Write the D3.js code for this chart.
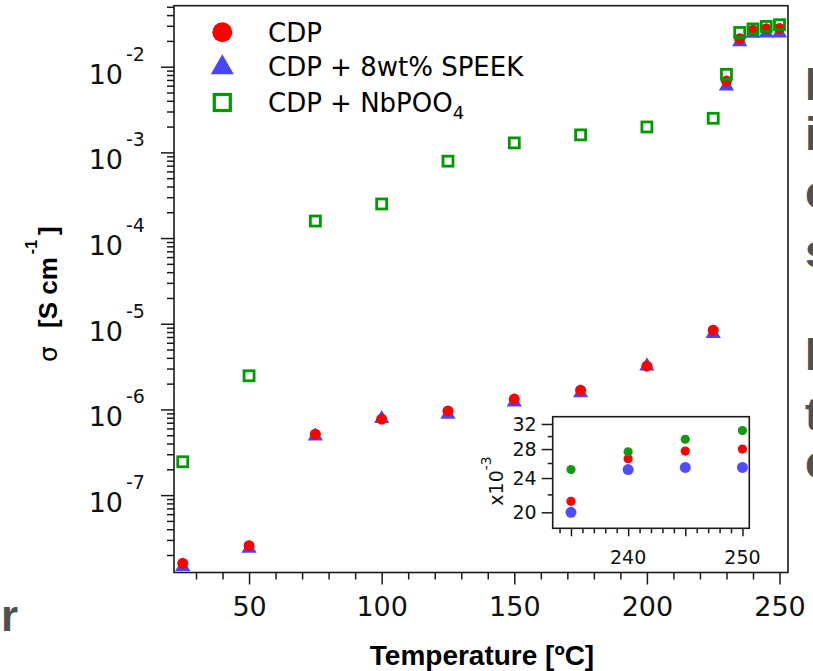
<!DOCTYPE html>
<html>
<head>
<meta charset="utf-8">
<script src="https://cdnjs.cloudflare.com/ajax/libs/d3/7.8.5/d3.min.js"></script>
<style>
  body { margin: 0; background: #fff; }
  svg { display: block; font-family: "DejaVu Sans", sans-serif; }
</style>
</head>
<body>
<svg id="chart" width="813" height="671"></svg>
<script>
// data
var temps = [25, 50, 75, 100, 125, 150, 175, 200, 225, 230, 235, 240, 245, 250];
var cdp = [1.6e-8, 2.57e-8, 5.15e-7, 7.7e-7, 9.6e-7, 1.32e-6, 1.68e-6, 3.2e-6, 8.4e-6, 6.8e-3, 21.2e-3, 26.6e-3, 27.7e-3, 28.0e-3];
var speek = [1.5e-8, 2.45e-8, 5.0e-7, 8.0e-7, 9.0e-7, 1.25e-6, 1.6e-6, 3.3e-6, 7.9e-6, 6.1e-3, 20.0e-3, 25.1e-3, 25.4e-3, 25.4e-3];
var nbpoo4 = [2.45e-7, 2.47e-6, 1.58e-4, 2.5e-4, 7.9e-4, 1.29e-3, 1.6e-3, 1.98e-3, 2.5e-3, 8.15e-3, 25.1e-3, 27.6e-3, 29.5e-3, 30.9e-3];

var xMajor = [50, 100, 150, 200, 250];
var yDecades = [-7, -6, -5, -4, -3, -2];
var insetXLabels = [240, 250];
var insetYLabels = [20, 24, 28, 32];
var seriesNames = ["CDP", "CDP + 8wt% SPEEK", "CDP + NbPOO"];
var sideLetters = ["I", "i", "c", "s", "I", "t", "c"];

var red = "#ff0000", blue = "#4646ff", green = "#009900";
var helv = "Liberation Sans, Arial, sans-serif";

var svg = d3.select("#chart");

// main plot box
var box = {left: 174, right: 788, top: 5.7, bottom: 572.5};
var x = d3.scaleLinear().domain([21.7, 253.2]).range([box.left, box.right]);
var y = d3.scaleLog().domain([1.25e-8, 5.15e-2]).range([box.bottom, box.top]);

var main = svg.append("g");

// x ticks (outside, below)
var xMinor = d3.range(30, 251, 10).filter(function(t){ return xMajor.indexOf(t) < 0; });
main.append("g")
  .attr("transform", "translate(0," + box.bottom + ")")
  .call(d3.axisBottom(x).tickValues(xMinor).tickSize(7).tickFormat(""))
  .call(cleanAxis);
main.append("g")
  .attr("transform", "translate(0," + box.bottom + ")")
  .call(d3.axisBottom(x).tickValues(xMajor).tickSize(12).tickPadding(12).tickFormat(d3.format("d")))
  .call(cleanAxis)
  .selectAll("text")
  .attr("font-size", 27)
  .attr("fill", "#111");

// y ticks (outside, left)
var yMinor = [];
d3.range(-8, -1).forEach(function(p){
  for (var m = 2; m <= 9; m++) {
    var v = m * Math.pow(10, p);
    if (v >= y.domain()[0] && v <= y.domain()[1]) yMinor.push(v);
  }
});
main.append("g")
  .attr("transform", "translate(" + box.left + ",0)")
  .call(d3.axisLeft(y).tickValues(yMinor).tickSize(7).tickFormat(""))
  .call(cleanAxis);
main.append("g")
  .attr("transform", "translate(" + box.left + ",0)")
  .call(d3.axisLeft(y).tickValues(yDecades.map(function(p){ return Math.pow(10, p); })).tickSize(13).tickFormat(""))
  .call(cleanAxis);

// decade labels with superscripts
main.append("g").selectAll("text")
  .data(yDecades)
  .join("text")
  .attr("x", 123)
  .attr("y", function(p){ return y(Math.pow(10, p)) + 17; })
  .attr("text-anchor", "end")
  .attr("font-size", 27)
  .attr("fill", "#111")
  .text("10");
main.append("g").selectAll("text")
  .data(yDecades)
  .join("text")
  .attr("x", 126)
  .attr("y", function(p){ return y(Math.pow(10, p)) - 6; })
  .attr("font-size", 19)
  .attr("fill", "#111")
  .text(function(p){ return "-" + (-p); });

// frame
main.append("rect")
  .attr("x", box.left).attr("y", box.top)
  .attr("width", box.right - box.left).attr("height", box.bottom - box.top)
  .attr("fill", "none").attr("stroke", "#1a1a1a").attr("stroke-width", 1.6);

// markers: triangles, then circles, then open squares
var tri = d3.symbol().type(d3.symbolTriangle).size(100);
main.append("g").selectAll("path")
  .data(temps)
  .join("path")
  .attr("d", tri)
  .attr("transform", function(t, i){ return "translate(" + x(t) + "," + (y(speek[i]) + 1) + ")"; })
  .attr("fill", blue);
main.append("g").selectAll("circle")
  .data(temps)
  .join("circle")
  .attr("cx", function(t){ return x(t); })
  .attr("cy", function(t, i){ return y(cdp[i]); })
  .attr("r", 5.5)
  .attr("fill", red);
main.append("g").selectAll("rect")
  .data(temps)
  .join("rect")
  .attr("x", function(t){ return x(t) - 5; })
  .attr("y", function(t, i){ return y(nbpoo4[i]) - 5; })
  .attr("width", 10).attr("height", 10)
  .attr("fill", "none")
  .attr("stroke", green)
  .attr("stroke-width", 2.8);

// axis titles
svg.append("text")
  .attr("x", 482).attr("y", 665)
  .attr("text-anchor", "middle")
  .attr("font-family", helv)
  .attr("font-size", 28)
  .attr("font-weight", "bold")
  .attr("fill", "#000")
  .text("Temperature [ºC]");

var yt = svg.append("text")
  .attr("transform", "rotate(-90)")
  .attr("y", 57)
  .attr("fill", "#000");
yt.append("tspan").attr("x", -362).attr("font-size", 25).text("σ");
yt.append("tspan").attr("x", -328).attr("font-size", 26)
  .attr("font-family", helv).attr("font-weight", "bold").text("[S cm");
yt.append("tspan").attr("dy", -20).attr("dx", 3).attr("font-size", 16)
  .attr("font-family", helv).attr("font-weight", "bold").text("-1");
yt.append("tspan").attr("dy", 20).attr("dx", 5).attr("font-size", 26)
  .attr("font-family", helv).attr("font-weight", "bold").text("]");

// legend
var leg = svg.append("g");
var legY = [32.3, 67.6, 102.5];
leg.append("circle").attr("cx", 222.3).attr("cy", legY[0]).attr("r", 10).attr("fill", red);
leg.append("path")
  .attr("d", d3.symbol().type(d3.symbolTriangle).size(230))
  .attr("transform", "translate(222.3," + legY[1] + ")")
  .attr("fill", blue);
leg.append("rect").attr("x", 214.3).attr("y", legY[2] - 8).attr("width", 16).attr("height", 16)
  .attr("fill", "none").attr("stroke", green).attr("stroke-width", 3.2);
leg.selectAll("text.lab")
  .data(seriesNames)
  .join("text")
  .attr("class", "lab")
  .attr("x", 268)
  .attr("y", function(d, i){ return [42.3, 75.7, 111.7][i]; })
  .attr("font-size", 26)
  .attr("fill", "#000")
  .text(function(d){ return d; })
  .filter(function(d, i){ return i == 2; })
  .append("tspan")
  .attr("dy", 7).attr("font-size", 18).text("4");

// inset with the high temperature points, log axis in units of 1e-3
var ib = {left: 552.7, right: 749.3, top: 416.7, bottom: 528.3};
var ix = d3.scaleLinear().domain([233.4, 250.6]).range([ib.left, ib.right]);
var iy = d3.scaleLog().domain([18.37, 33.26]).range([ib.bottom, ib.top]);
var inset = svg.append("g");

inset.append("rect")
  .attr("x", ib.left).attr("y", ib.top)
  .attr("width", ib.right - ib.left).attr("height", ib.bottom - ib.top)
  .attr("fill", "#fff").attr("stroke", "#1a1a1a").attr("stroke-width", 1.6);

inset.append("g")
  .attr("transform", "translate(0," + ib.bottom + ")")
  .call(d3.axisBottom(ix).tickValues(d3.range(234, 251).filter(function(t){ return t % 5; })).tickSize(5).tickFormat(""))
  .call(cleanAxis);
inset.append("g")
  .attr("transform", "translate(0," + ib.bottom + ")")
  .call(d3.axisBottom(ix).tickValues([235, 240, 245, 250]).tickSize(8).tickFormat(""))
  .call(cleanAxis);
inset.append("g").selectAll("text")
  .data(insetXLabels)
  .join("text")
  .attr("x", function(t){ return ix(t); })
  .attr("y", 564)
  .attr("text-anchor", "middle")
  .attr("font-size", 19)
  .attr("fill", "#111")
  .text(function(t){ return t; });

inset.append("g")
  .attr("transform", "translate(" + ib.left + ",0)")
  .call(d3.axisLeft(iy).tickValues([22, 26, 30]).tickSize(5).tickFormat(""))
  .call(cleanAxis);
inset.append("g")
  .attr("transform", "translate(" + ib.left + ",0)")
  .call(d3.axisLeft(iy).tickValues(insetYLabels).tickSize(11).tickPadding(5).tickFormat(d3.format("d")))
  .call(cleanAxis)
  .selectAll("text")
  .attr("font-size", 19)
  .attr("fill", "#111");

var ilab = inset.append("text")
  .attr("transform", "rotate(-90)")
  .attr("x", -481).attr("y", 503)
  .attr("text-anchor", "middle")
  .attr("fill", "#111")
  .attr("font-size", 19);
ilab.append("tspan").text("x10");
ilab.append("tspan").attr("dy", -12).attr("font-size", 14).text("-3");

var hot = temps.map(function(t, i){ return i; }).filter(function(i){ return temps[i] >= 235; });
inset.append("g").selectAll("circle")
  .data(hot)
  .join("circle")
  .attr("cx", function(i){ return ix(temps[i]); })
  .attr("cy", function(i){ return iy(speek[i] * 1e3); })
  .attr("r", 5.5).attr("fill", "#4d4dff");
inset.append("g").selectAll("circle")
  .data(hot)
  .join("circle")
  .attr("cx", function(i){ return ix(temps[i]); })
  .attr("cy", function(i){ return iy(cdp[i] * 1e3); })
  .attr("r", 4.6).attr("fill", red);
inset.append("g").selectAll("circle")
  .data(hot)
  .join("circle")
  .attr("cx", function(i){ return ix(temps[i]); })
  .attr("cy", function(i){ return iy(nbpoo4[i] * 1e3); })
  .attr("r", 4.6).attr("fill", "#119911");

// cut off slide text around the figure
var sideY = [100, 150, 208, 267, 370, 430, 478];
svg.append("g").selectAll("text")
  .data(sideLetters)
  .join("text")
  .attr("x", 805)
  .attr("y", function(d, i){ return sideY[i]; })
  .attr("font-family", helv)
  .attr("font-weight", "bold")
  .attr("font-size", 46)
  .attr("fill", "#505050")
  .text(function(d){ return d; });
svg.append("text")
  .attr("x", 1).attr("y", 631)
  .attr("font-family", helv)
  .attr("font-weight", "bold")
  .attr("font-size", 44)
  .attr("fill", "#505050")
  .text("r");

function cleanAxis(g) {
  g.select(".domain").remove();
  g.selectAll(".tick line").attr("stroke", "#1a1a1a").attr("stroke-width", 1.5);
  g.selectAll("text").attr("font-family", "DejaVu Sans, sans-serif");
}
</script>
</body>
</html>
